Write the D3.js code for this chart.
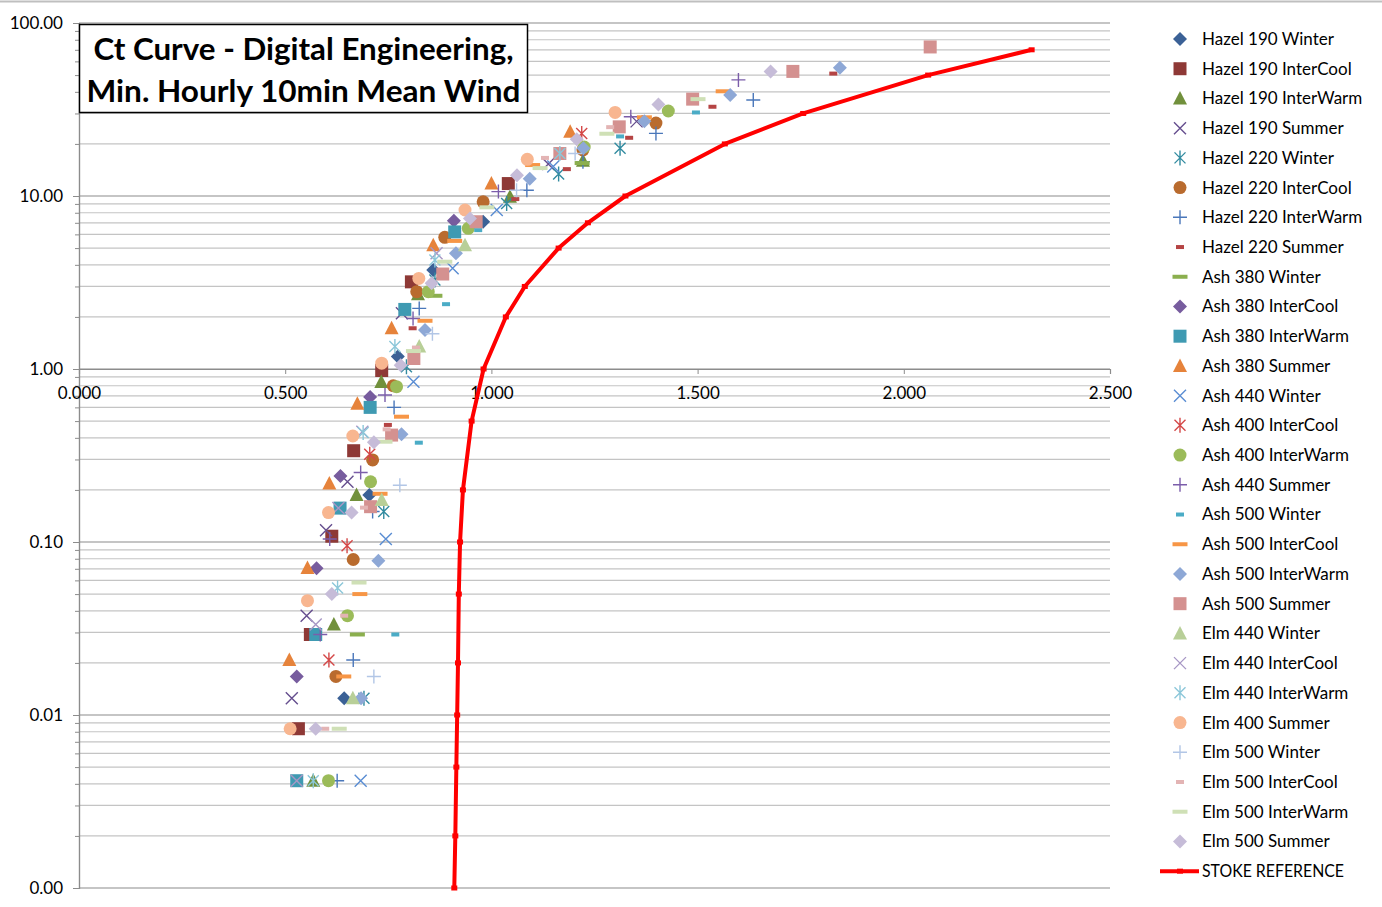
<!DOCTYPE html>
<html>
<head>
<meta charset="utf-8">
<script src="https://cdn.jsdelivr.net/npm/d3@7"></script>
<style>
  body { margin: 0; background: #ffffff; }
  svg { display: block; font-family: Lato, "Open Sans", "Liberation Sans", sans-serif; }
</style>
</head>
<body>
<svg id="chart" width="1382" height="907"></svg>
<script>
// ---- measured points: [wind speed ratio, exceedance] ----
const hazel190Winter    = [[0.643,0.0125],[0.704,0.187],[0.773,1.18],[0.859,3.73],[0.980,7.1]];
const hazel190InterCool = [[0.532,0.00833],[0.561,0.0292],[0.613,0.108],[0.666,0.337],[0.734,0.98],[0.806,3.19],[1.041,11.8]];
const hazel190InterWarm = [[0.568,0.00417],[0.618,0.0333],[0.673,0.187],[0.733,0.84],[0.822,2.7],[1.045,9.9],[1.222,16]];
const hazel190Summer    = [[0.516,0.0125],[0.552,0.0375],[0.599,0.117],[0.651,0.223],[0.783,2.1],[1.138,15.3],[1.352,27]];
const hazel220Winter    = [[0.691,0.0125],[0.739,0.15],[0.794,1.03],[0.863,3.27],[1.037,9.05],[1.163,13.4],[1.312,18.9]];
const hazel220InterCool = [[0.623,0.0167],[0.665,0.0792],[0.712,0.298],[0.762,0.8],[0.819,2.8],[0.887,5.77],[0.98,9.25],[1.222,18.5],[1.399,26.4]];
const hazel220InterWarm = [[0.626,0.00417],[0.665,0.0208],[0.712,0.15],[0.764,0.6],[0.825,2.24],[1.086,10.8],[1.222,15.8],[1.399,23],[1.635,35.9]];
const hazel220Summer    = [[0.749,0.475],[0.809,1.72],[1.058,9.6],[1.183,14.3],[1.334,21.7],[1.536,32.8],[1.829,51]];
const ash380Winter      = [[0.675,0.0292],[0.863,2.65],[1.22,15.5]];
const ash380InterCool   = [[0.528,0.0167],[0.576,0.0704],[0.634,0.241],[0.706,0.69],[0.909,7.2]];
const ash380InterWarm   = [[0.528,0.00417],[0.574,0.0292],[0.633,0.157],[0.706,0.6],[0.79,2.21],[0.911,6.2]];
const ash380Summer      = [[0.51,0.0208],[0.554,0.0708],[0.607,0.218],[0.675,0.63],[0.758,1.72],[0.859,5.2],[1.0,11.8],[1.191,23.5]];
const ash440Winter      = [[0.683,0.00417],[0.744,0.104],[0.811,0.845],[0.906,3.82],[1.013,8.3],[1.15,14.8]];
const ash400InterCool   = [[0.606,0.0208],[0.65,0.095],[0.705,0.322],[1.219,23]];
const ash400InterWarm   = [[0.605,0.00417],[0.651,0.0375],[0.707,0.223],[0.77,0.79],[0.847,2.8],[0.944,6.5],[1.225,19.2],[1.429,31]];
const ash440Summer      = [[0.585,0.0292],[0.608,0.104],[0.683,0.252],[0.742,0.707],[0.81,1.96],[1.017,10.6],[1.338,28.7],[1.599,46.9]];
const ash500Winter      = [[0.767,0.0292],[0.824,0.375],[0.89,2.37],[0.968,6.35],[1.312,22.1],[1.496,30.4]];
const ash500InterCool   = [[0.642,0.0167],[0.681,0.05],[0.73,0.19],[0.782,0.53],[0.839,1.9],[0.911,5.5],[1.1,15.1],[1.371,28.5],[1.562,40.3]];
const ash500InterWarm   = [[0.684,0.0125],[0.726,0.078],[0.782,0.42],[0.839,1.68],[0.914,4.66],[1.093,12.6],[1.223,18.9],[1.371,27],[1.579,38.4],[1.845,55.2]];
const ash500Summer      = [[0.707,0.16],[0.758,0.415],[0.812,1.15],[0.882,3.54],[0.963,7.1],[1.166,17.6],[1.31,25.1],[1.488,36.3],[1.731,52.5],[2.064,72.7]];
const elm440Winter      = [[0.664,0.0125],[0.734,0.175],[0.825,1.35],[0.936,5.2]];
const elm440InterCool   = [[0.528,0.00417],[0.574,0.0333],[0.629,0.157],[0.687,0.434],[0.867,4.66]];
const elm440InterWarm   = [[0.568,0.00417],[0.627,0.0542],[0.689,0.43],[0.766,1.35],[0.863,4.27],[1.166,17.6]];
const elm400Summer      = [[0.512,0.00833],[0.554,0.0458],[0.605,0.148],[0.664,0.41],[0.734,1.08],[0.824,3.34],[0.936,8.3],[1.087,16.3],[1.3,30.4]];
const elm500Winter      = [[0.715,0.0167],[0.778,0.213],[0.857,1.6],[1.061,10.8],[1.203,17.6]];
const elm500InterCool   = [[0.597,0.00833],[0.643,0.0375],[0.691,0.158],[0.746,0.448],[0.817,1.33],[1.13,16.6],[1.288,25]];
const elm500InterWarm   = [[0.631,0.00833],[0.679,0.0583],[0.742,0.38],[0.811,1.27],[0.887,4.17],[0.989,8.6],[1.118,14.5],[1.28,22.9],[1.501,36.3]];
const elm500Summer      = [[0.574,0.00833],[0.613,0.05],[0.661,0.148],[0.715,0.377],[0.78,1.05],[0.855,3.13],[0.948,7.42],[1.062,13.2],[1.207,21.3],[1.405,33.8],[1.677,52.5]];

// reference curve
const stokeX = [0.910,0.9125,0.915,0.917,0.919,0.921,0.924,0.931,0.952,0.981,1.035,1.081,1.163,1.234,1.325,1.566,1.756,2.059,2.31];
const stokeY = [0.001,0.002,0.005,0.01,0.02,0.05,0.1,0.2,0.5,1,2,3,5,7,10,20,30,50,70];

// axis ticks
const yTickValues = [0.001,0.01,0.1,1,10,100];
const xTickValues = [0,0.5,1,1.5,2,2.5];

const titleLines = ["Ct Curve - Digital Engineering,", "Min. Hourly 10min Mean Wind"];

// series: label, data, marker shape, colour
const series = [
  ["Hazel 190 Winter",    hazel190Winter,    "diamond",  "#3B6196"],
  ["Hazel 190 InterCool", hazel190InterCool, "square",   "#8E3936"],
  ["Hazel 190 InterWarm", hazel190InterWarm, "triangle", "#71903C"],
  ["Hazel 190 Summer",    hazel190Summer,    "x",        "#654E8E"],
  ["Hazel 220 Winter",    hazel220Winter,    "asterisk", "#328BA0"],
  ["Hazel 220 InterCool", hazel220InterCool, "circle",   "#B96B2E"],
  ["Hazel 220 InterWarm", hazel220InterWarm, "plus",     "#4A77BA"],
  ["Hazel 220 Summer",    hazel220Summer,    "dash",     "#B54444"],
  ["Ash 380 Winter",      ash380Winter,      "longdash", "#8BAF4E"],
  ["Ash 380 InterCool",   ash380InterCool,   "diamond",  "#775C9E"],
  ["Ash 380 InterWarm",   ash380InterWarm,   "square",   "#3F9AB2"],
  ["Ash 380 Summer",      ash380Summer,      "triangle", "#E6833B"],
  ["Ash 440 Winter",      ash440Winter,      "x",        "#5A8DD3"],
  ["Ash 400 InterCool",   ash400InterCool,   "asterisk", "#D44848"],
  ["Ash 400 InterWarm",   ash400InterWarm,   "circle",   "#9BBB59"],
  ["Ash 440 Summer",      ash440Summer,      "plus",     "#7B5DAA"],
  ["Ash 500 Winter",      ash500Winter,      "dash",     "#4BACC6"],
  ["Ash 500 InterCool",   ash500InterCool,   "longdash", "#F79646"],
  ["Ash 500 InterWarm",   ash500InterWarm,   "diamond",  "#8EA8D6"],
  ["Ash 500 Summer",      ash500Summer,      "square",   "#D49190"],
  ["Elm 440 Winter",      elm440Winter,      "triangle", "#B8CF98"],
  ["Elm 440 InterCool",   elm440InterCool,   "x",        "#A797C5"],
  ["Elm 440 InterWarm",   elm440InterWarm,   "asterisk", "#8CC7D9"],
  ["Elm 400 Summer",      elm400Summer,      "circle",   "#F8B690"],
  ["Elm 500 Winter",      elm500Winter,      "plus",     "#B2C6E6"],
  ["Elm 500 InterCool",   elm500InterCool,   "dash",     "#E3B4B4"],
  ["Elm 500 InterWarm",   elm500InterWarm,   "longdash", "#CFE0B6"],
  ["Elm 500 Summer",      elm500Summer,      "diamond",  "#C6BCD8"]
];

const svg = d3.select("#chart");
const x = d3.scaleLinear().domain([0, 2.5]).range([79, 1110]);
const y = d3.scaleLog().domain([0.001, 100]).range([888, 23]);

// outer frame line at the very top
svg.append("line").attr("x1", 0).attr("x2", 1382).attr("y1", 1.5).attr("y2", 1.5)
  .attr("stroke", "#BFBFBF").attr("stroke-width", 2);

// horizontal gridlines: minor first, major over them
const minorVals = [], majorVals = [];
[0.001, 0.01, 0.1, 1, 10].forEach(d => {
  majorVals.push(d);
  for (let k = 2; k <= 9; k++) minorVals.push(+(d * k).toPrecision(3));
});
majorVals.push(100);

const grid = svg.append("g");
grid.selectAll("line.minor").data(minorVals).join("line")
  .attr("class", "minor")
  .attr("x1", x(0)).attr("x2", x(2.5))
  .attr("y1", d => y(d)).attr("y2", d => y(d))
  .attr("stroke", "#C4C4C4").attr("stroke-width", 1.2);
grid.selectAll("line.major").data(majorVals).join("line")
  .attr("class", "major")
  .attr("x1", x(0)).attr("x2", x(2.5))
  .attr("y1", d => y(d)).attr("y2", d => y(d))
  .attr("stroke", "#8C8C8C").attr("stroke-width", 1.2);

// y axis
const yAxis = svg.append("g").attr("transform", `translate(${x(0)},0)`)
  .call(d3.axisLeft(y).tickValues(yTickValues).tickFormat(d3.format(".2f")).tickSize(6).tickPadding(10));
const yMinor = svg.append("g").attr("transform", `translate(${x(0)},0)`)
  .call(d3.axisLeft(y).tickValues(minorVals).tickFormat("").tickSize(4));
[yAxis, yMinor].forEach(g => {
  g.select(".domain").attr("stroke", "#8C8C8C").attr("stroke-width", 1.2);
  g.selectAll(".tick line").attr("stroke", "#8C8C8C");
});
yAxis.selectAll("text").attr("font-size", 17).attr("fill", "#000")
  .attr("font-family", "Lato, 'Open Sans', sans-serif");

// x axis crossing at 1.0
const xAxis = svg.append("g").attr("transform", `translate(0,${y(1)})`)
  .call(d3.axisBottom(x).tickValues(xTickValues).tickFormat(d3.format(".3f")).tickSize(5).tickPadding(13));
xAxis.select(".domain").attr("stroke", "#8C8C8C").attr("stroke-width", 1.2);
xAxis.selectAll(".tick line").attr("stroke", "#8C8C8C");
xAxis.selectAll("text").attr("font-size", 17).attr("fill", "#000")
  .attr("font-family", "Lato, 'Open Sans', sans-serif");

// marker shapes
const circlePath = d3.symbol(d3.symbolCircle, Math.PI * 6.5 * 6.5)();
const shapePath = {
  diamond:  "M0,-7L7,0L0,7L-7,0Z",
  square:   "M-6.5,-6.5H6.5V6.5H-6.5Z",
  triangle: "M0,-7.5L7,6L-7,6Z",
  circle:   circlePath,
  x:        "M-6,-6L6,6M-6,6L6,-6",
  asterisk: "M-5.5,-5.5L5.5,5.5M-5.5,5.5L5.5,-5.5M0,-7.5V7.5",
  plus:     "M-7,0H7M0,-7V7",
  dash:     "M-4,-2H4V2H-4Z",
  longdash: "M-7.5,-2H7.5V2H-7.5Z"
};
const strokeOnly = new Set(["x", "asterisk", "plus"]);

function styleMarker(sel, shape, color) {
  sel.attr("d", shapePath[shape]);
  if (strokeOnly.has(shape)) {
    sel.attr("fill", "none").attr("stroke", color).attr("stroke-width", 1.4);
  } else {
    sel.attr("fill", color).attr("stroke", "none");
  }
}

const plot = svg.append("g");
series.forEach(([label, data, shape, color]) => {
  plot.append("g").selectAll("path").data(data).join("path")
    .attr("transform", d => `translate(${x(d[0])},${y(d[1])})`)
    .call(styleMarker, shape, color);
});

// reference line
const stoke = stokeX.map((v, i) => [v, stokeY[i]]);
svg.append("path").datum(stoke)
  .attr("fill", "none").attr("stroke", "#FF0000").attr("stroke-width", 4)
  .attr("stroke-linejoin", "round")
  .attr("d", d3.line().x(d => x(d[0])).y(d => y(d[1])));
svg.append("g").selectAll("rect").data(stoke).join("rect")
  .attr("x", d => x(d[0]) - 3).attr("y", d => y(d[1]) - 2.5)
  .attr("width", 6).attr("height", 5).attr("fill", "#FF0000");

// title box
const tb = svg.append("g");
tb.append("rect").attr("x", 79.5).attr("y", 24.5).attr("width", 448).attr("height", 88)
  .attr("fill", "#fff").attr("stroke", "#000").attr("stroke-width", 1.5);
tb.selectAll("text").data(titleLines).join("text")
  .attr("x", 303.5).attr("y", (d, i) => 60 + i * 42)
  .attr("text-anchor", "middle").attr("font-size", 30).attr("font-weight", "bold")
  .attr("textLength", (d, i) => i === 0 ? 420 : 434).attr("lengthAdjust", "spacingAndGlyphs")
  .text(d => d);

// legend
const legend = svg.append("g");
const rowY = i => 39 + i * 29.72;
series.forEach(([label, data, shape, color], i) => {
  legend.append("path").attr("transform", `translate(1180,${rowY(i)})`).call(styleMarker, shape, color);
  legend.append("text").attr("x", 1202).attr("y", rowY(i)).attr("dy", "0.35em")
    .attr("font-size", 17).text(label);
});
const ri = series.length;
legend.append("line").attr("x1", 1160).attr("x2", 1199).attr("y1", rowY(ri)).attr("y2", rowY(ri))
  .attr("stroke", "#FF0000").attr("stroke-width", 4);
legend.append("rect").attr("x", 1177).attr("y", rowY(ri) - 2.5).attr("width", 6).attr("height", 5).attr("fill", "#FF0000");
legend.append("text").attr("x", 1202).attr("y", rowY(ri)).attr("dy", "0.35em")
  .attr("font-size", 17).attr("textLength", 142).attr("lengthAdjust", "spacingAndGlyphs")
  .text("STOKE REFERENCE");
</script>
</body>
</html>
